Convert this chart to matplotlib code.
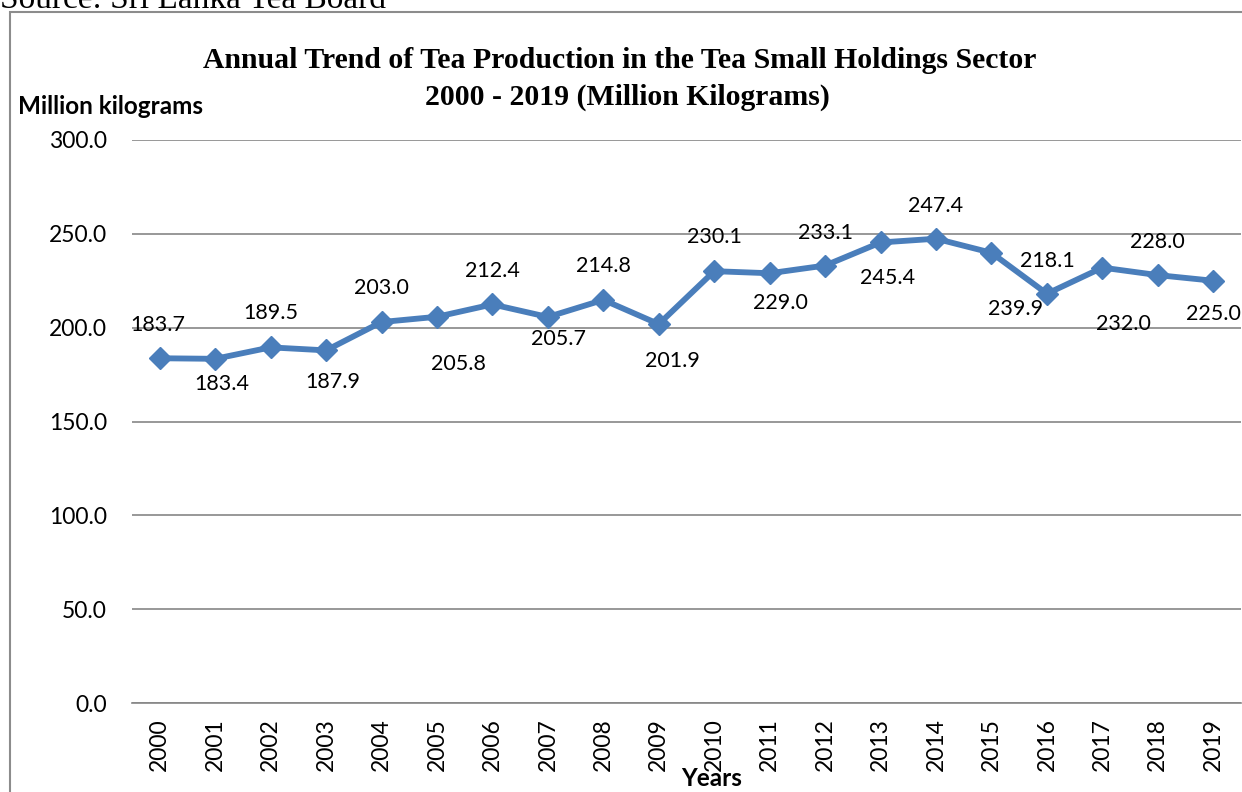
import matplotlib.pyplot as plt
from matplotlib.patches import Rectangle

years = [str(y) for y in range(2000, 2020)]
production = [183.7, 183.4, 189.5, 187.9, 203.0, 205.8, 212.4, 205.7, 214.8, 201.9,
              230.1, 229.0, 233.1, 245.4, 247.4, 239.9, 218.1, 232.0, 228.0, 225.0]
yticks = [0, 50, 100, 150, 200, 250, 300]

# label offsets in pixels (dx, dy) from each point, as placed in the original
label_dx = [-2, 7, 0, 7, 0, 21, 0, 11, 0, 14, 0, 11, 0, 7, 0, 24, 0, 21, 0, 0]
label_dy = [33, -25, 34, -32, 34, -47, 33, -22, 34, -37, 34, -30, 33, -36, 33, -56, 33, -56, 33, -33]

blue = "#4A7EBB"
grid = "#868686"

fig = plt.figure(figsize=(12.42, 7.92), dpi=100)
ax = fig.add_axes([132 / 1242, 1 - 703 / 792, 1109 / 1242, 563 / 792])

x = list(range(len(years)))
ax.plot(x, production, color=blue, lw=4.2, marker="D", ms=11, mec=blue, mfc=blue, zorder=3)

for i, v in enumerate(production):
    ax.annotate(f"{v:.1f}", (i, v), xytext=(label_dx[i] * 0.72, label_dy[i] * 0.72),
                textcoords="offset points", ha="center", va="center",
                fontsize=15.5, family="Lato", color="black")

ax.set_xlim(-0.5, len(years) - 0.5)
ax.set_ylim(0, 300)
ax.set_yticks(yticks)
ax.set_yticklabels([f"{t:.1f}" for t in yticks], family="Lato", fontsize=16.5)
ax.set_xticks(x)
ax.set_xticklabels(years, rotation=90, family="Lato", fontsize=16.5)
ax.tick_params(axis="both", length=0)
ax.tick_params(axis="y", pad=18)
ax.tick_params(axis="x", pad=11)
ax.grid(axis="y", color=grid, lw=1.2)
ax.set_axisbelow(True)
for s in ["top", "right", "left"]:
    ax.spines[s].set_visible(False)
ax.spines["bottom"].set_color(grid)
ax.spines["bottom"].set_linewidth(1.2)

fig.text(620 / 1242, 1 - 60 / 792, "Annual Trend of Tea Production in the Tea Small Holdings Sector",
         family="Liberation Serif", weight="bold", fontsize=21.4, ha="center", va="center")
fig.text(627 / 1242, 1 - 97 / 792, "2000 - 2019 (Million Kilograms)",
         family="Liberation Serif", weight="bold", fontsize=21.4, ha="center", va="center")
fig.text(18 / 1242, 1 - 106 / 792, "Million kilograms", family="Lato", weight="bold",
         fontsize=17.5, ha="left", va="center")
fig.text(712 / 1242, 1 - 778 / 792, "Years", family="Lato", weight="bold",
         fontsize=17.5, ha="center", va="center")
fig.text(0, 1 - 8 / 792, "Source: Sri Lanka Tea Board", family="Liberation Serif",
         fontsize=24, ha="left", va="baseline")

fig.patches.append(Rectangle((10 / 1242, -0.05), 1.1, 1 - 12 / 792 + 0.05, transform=fig.transFigure,
                             fill=False, edgecolor="#8C8C8C", lw=1.5))

fig.savefig("out.png", dpi=100)
